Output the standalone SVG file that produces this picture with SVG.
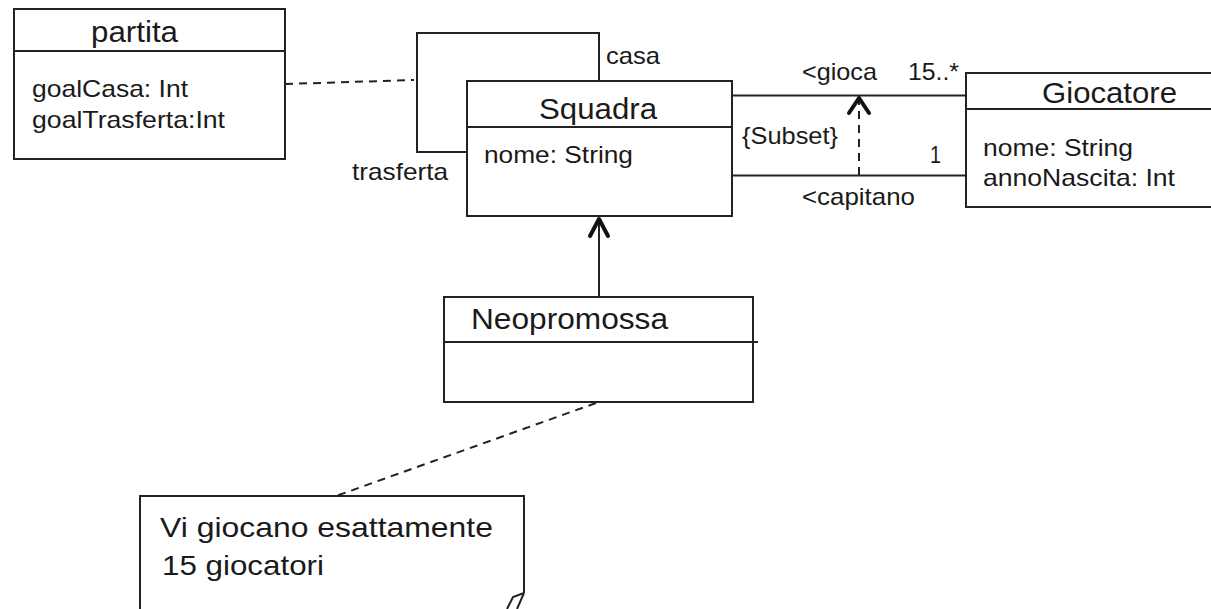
<svg xmlns="http://www.w3.org/2000/svg" width="1211" height="609" viewBox="0 0 1211 609">
<style>
.box{fill:#fff;stroke:#222;stroke-width:2}
.ln{fill:none;stroke:#222;stroke-width:2}
.dash{fill:none;stroke:#222;stroke-width:2;stroke-dasharray:8 6}
.head{fill:none;stroke:#111;stroke-width:4;stroke-linecap:round;stroke-linejoin:round}
text{font-family:"Liberation Sans",Arial,sans-serif;fill:#1a1a1a}
.t{font-size:30px}
.a{font-size:24px}
.n{font-size:28px}
</style>
<rect width="1211" height="609" fill="#fff"/>
<g id="connectors">
<path class="dash" d="M285,84 L414,80"/>
<path class="ln" d="M599,81 V33 H417 V152 H467"/>
<path class="ln" d="M732,95.5 H966"/>
<path class="ln" d="M732,175.5 H966"/>
<path class="dash" d="M859,175 V99" stroke-dasharray="8 5"/>
<path class="head" d="M849,113 L859,98 L869,113"/>
<path class="ln" d="M599,297 V219"/>
<path class="head" d="M590,236 L599,219 L608,236"/>
<path class="dash" d="M596,403 L336,496"/>
<text class="a" x="606" y="64" textLength="54" lengthAdjust="spacingAndGlyphs">casa</text>
<text class="a" x="352" y="180" textLength="96" lengthAdjust="spacingAndGlyphs">trasferta</text>
<text class="a" x="802" y="80" textLength="75" lengthAdjust="spacingAndGlyphs">&lt;gioca</text>
<text class="a" x="908" y="80" textLength="51" lengthAdjust="spacingAndGlyphs">15..*</text>
<text class="a" x="742" y="144" textLength="96" lengthAdjust="spacingAndGlyphs">{Subset}</text>
<text class="a" x="930" y="163" textLength="11" lengthAdjust="spacingAndGlyphs">1</text>
<text class="a" x="802" y="205" textLength="113" lengthAdjust="spacingAndGlyphs">&lt;capitano</text>
</g>
<g id="partita">
<rect class="box" x="14" y="9" width="271" height="150"/>
<path class="ln" d="M14,51 H285"/>
<text class="t" x="91" y="42" textLength="87" lengthAdjust="spacingAndGlyphs">partita</text>
<text class="a" x="32" y="97" textLength="156" lengthAdjust="spacingAndGlyphs">goalCasa: Int</text>
<text class="a" x="32" y="128" textLength="193" lengthAdjust="spacingAndGlyphs">goalTrasferta:Int</text>
</g>
<g id="squadra">
<rect class="box" x="467" y="81" width="265" height="135"/>
<path class="ln" d="M467,127 H732"/>
<text class="t" x="539" y="119" textLength="118" lengthAdjust="spacingAndGlyphs">Squadra</text>
<text class="a" x="484" y="163" textLength="149" lengthAdjust="spacingAndGlyphs">nome: String</text>
</g>
<g id="giocatore">
<rect class="box" x="966" y="73" width="250" height="134"/>
<path class="ln" d="M966,109 H1216"/>
<text class="t" x="1042" y="103" textLength="135" lengthAdjust="spacingAndGlyphs">Giocatore</text>
<text class="a" x="983" y="156" textLength="150" lengthAdjust="spacingAndGlyphs">nome: String</text>
<text class="a" x="983" y="186" textLength="192" lengthAdjust="spacingAndGlyphs">annoNascita: Int</text>
</g>
<g id="neopromossa">
<rect class="box" x="444" y="297" width="309" height="105"/>
<path class="ln" d="M444,342 H758"/>
<text class="t" x="471" y="329" textLength="197" lengthAdjust="spacingAndGlyphs">Neopromossa</text>
</g>
<g id="note">
<path class="ln" d="M140,612 V496 H524 V593"/>
<path class="ln" d="M524,593 L513,597 L507,609 M524,593 L517,609" stroke-width="1.8"/>
<text class="n" x="160" y="537" textLength="333" lengthAdjust="spacingAndGlyphs">Vi giocano esattamente</text>
<text class="n" x="162" y="575" textLength="162" lengthAdjust="spacingAndGlyphs">15 giocatori</text>
</g>
</svg>
